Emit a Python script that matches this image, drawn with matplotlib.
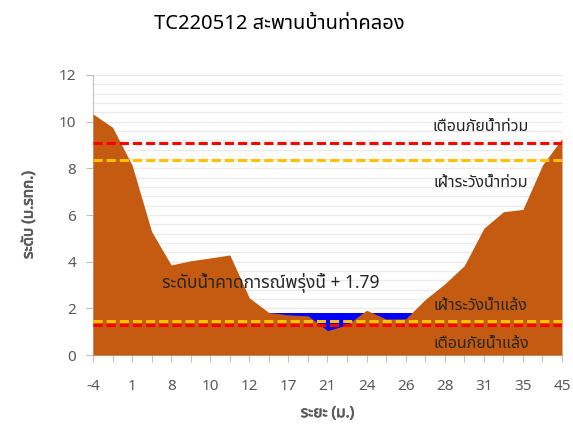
import numpy as np
import matplotlib
matplotlib.use('Agg')
import matplotlib.pyplot as plt
import matplotlib.patheffects as pe
from matplotlib import font_manager
from matplotlib.ft2font import FT2Font

# data
distance = ['-4', '-2', '1', '5', '8', '9', '10', '11', '12', '14', '17', '19', '21',
            '22', '24', '25', '26', '27', '28', '30', '31', '33', '35', '40', '45']
ground = [10.33, 9.76, 8.14, 5.29, 3.86, 4.04, 4.16, 4.29, 2.45, 1.82, 1.72, 1.68, 1.05,
          1.29, 1.92, 1.54, 1.55, 2.38, 3.05, 3.83, 5.43, 6.14, 6.24, 8.14, 9.28]
water_level = 1.79
flood_warn = 9.1
flood_watch = 8.35
drought_watch = 1.45
drought_warn = 1.3

# find a font with thai glyphs
thai_font = None
names = []
for f in font_manager.fontManager.ttflist:
    try:
        if 0x0E2A in FT2Font(f.fname).get_charmap():
            names.append(f.name)
    except Exception:
        pass
for pref in ['Tahoma', 'Noto Sans Thai', 'Noto Sans Thai UI', 'Loma', 'Garuda', 'Sarabun']:
    if pref in names:
        thai_font = pref
        break
if thai_font is None and names:
    thai_font = names[0]
plt.rcParams['font.family'] = [thai_font, 'DejaVu Sans'] if thai_font else ['DejaVu Sans']

fig = plt.figure(figsize=(5.73, 4.32), dpi=100)
ax = fig.add_axes([0.1623, 0.1782, 0.8185, 0.6482])

x = np.arange(len(distance))
ax.fill_between(x, 0, water_level, color='#0000FF', lw=0, zorder=2)
ax.fill_between(x, 0, ground, color='#C55A11', lw=0, zorder=3)

dash = (0, (3.0, 1.3))
ax.axhline(flood_warn, color='#FF0000', lw=2.2, ls=dash, zorder=4)
ax.axhline(flood_watch, color='#FFC000', lw=2.2, ls=dash, zorder=4)
ax.axhline(drought_watch, color='#FFC000', lw=2.2, ls=dash, zorder=4)
ax.axhline(drought_warn, color='#FF0000', lw=2.2, ls=dash, zorder=4)

tr = ax.get_yaxis_transform()
ax.text(0.827, 9.75, 'เตือนภัยน้ำท่วม', ha='center', va='center', fontsize=11.5, color='#262626',
        transform=tr, zorder=5)
ax.text(0.827, 7.39, 'เฝ้าระวังน้ำท่วม', ha='center', va='center', fontsize=11.5, color='#262626',
        transform=tr, zorder=5)
ax.text(0.827, 2.08, 'เฝ้าระวังน้ำแล้ง', ha='center', va='center', fontsize=11.5, color='#262626',
        transform=tr, zorder=5)
ax.text(0.827, 0.49, 'เตือนภัยน้ำแล้ง', ha='center', va='center', fontsize=11.5, color='#262626',
        transform=tr, zorder=5)
ax.text(0.38, 3.09, 'ระดับน้ำคาดการณ์พรุ่งนี้ + %.2f' % water_level, ha='center', va='center',
        fontsize=12.5, color='#262626', transform=tr, zorder=5)

ax.set_xlim(0, len(distance) - 1)
ax.set_ylim(0, 12)
ax.set_xticks(x)
ax.set_xticklabels([d if i % 2 == 0 else '' for i, d in enumerate(distance)])
ax.set_yticks(np.arange(0, 13, 2))
ax.set_yticks(np.arange(0, 12.01, 0.4), minor=True)
ax.grid(axis='y', which='both', color='#EBEBEB', lw=1, zorder=0)
ax.set_axisbelow(True)
ax.tick_params(axis='x', which='major', colors='#BFBFBF', length=5, labelcolor='#595959',
               labelsize=11, pad=12)
ax.tick_params(axis='y', which='major', colors='#BFBFBF', length=5, labelcolor='#595959',
               labelsize=11, pad=7)
ax.tick_params(axis='y', which='minor', length=0)
for s in ['top', 'right']:
    ax.spines[s].set_visible(False)
for s in ['left', 'bottom']:
    ax.spines[s].set_color('#BFBFBF')

# fake bold for the axis titles (thai font has no bold face)
bold = [pe.withStroke(linewidth=0.5, foreground='#595959')]
ax.set_xlabel('ระยะ (ม.)', fontsize=11, color='#595959', labelpad=9, path_effects=bold)
ax.set_ylabel('ระดับ (ม.รทก.)', fontsize=11, color='#595959', labelpad=16, path_effects=bold)
fig.text(0.487, 0.945, 'TC220512 สะพานบ้านท่าคลอง', fontsize=14.5, color='#000000',
         ha='center', va='center')

fig.savefig('out.png', dpi=100)
